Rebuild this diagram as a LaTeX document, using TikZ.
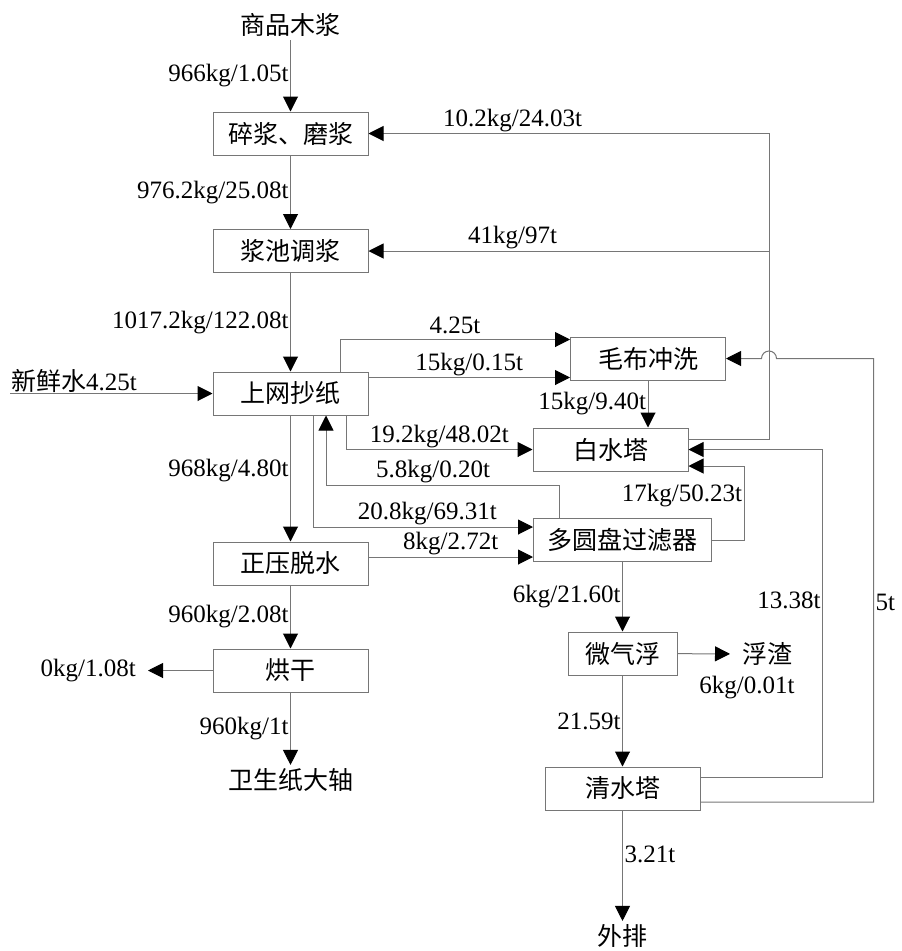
\documentclass[tikz,border=0pt]{standalone}
\usepackage{fontspec}
\setmainfont{Liberation Serif}
\newfontfamily\cjk{Noto Sans CJK SC}
\usetikzlibrary{arrows.meta}

\definecolor{linegray}{RGB}{118,118,118}
\newcommand\figsize{\fontsize{25}{30}\selectfont}

\tikzset{
  stage/.style={draw=linegray, line width=1pt, minimum width=155pt,
    minimum height=43pt, inner sep=0pt, font=\figsize\cjk},
  term/.style={font=\figsize\cjk},
  lbl/.style={inner sep=1.5pt, font=\figsize\rmfamily},
  flow/.style={draw=linegray, line width=1pt,
    -{Triangle[length=15pt,width=15pt,black]}},
}

\begin{document}
\begin{tikzpicture}[x=1pt, y=-1pt]
  \useasboundingbox (0,0) rectangle (902,951);

  % main line
  \node[term] (pulp) at (290.5,25) {商品木浆};
  \node[stage] (sui) at (290.5,133.5) {碎浆、磨浆};
  \node[stage] (tiao) at (290.5,251) {浆池调浆};
  \node[stage] (chao) at (290.5,393.5) {上网抄纸};
  \node[stage] (zheng) at (290.5,563.5) {正压脱水};
  \node[stage] (hong) at (290.5,670.5) {烘干};
  \node[term] (roll) at (290.5,780) {卫生纸大轴};
  \node[lbl, anchor=east, inner xsep=12pt] (dry) at (148,670.5) {0kg/1.08t};
  \node[lbl, anchor=south west, inner sep=1pt] (fresh) at (10,393.5) {{\cjk 新鲜水}4.25t};

  % water loop
  \node[stage] (mao) at (648,358.5) {毛布冲洗};
  \node[stage] (bai) at (610.5,449.5) {白水塔};
  \node[stage, minimum width=178pt] (duo) at (622.5,540) {多圆盘过滤器};
  \node[stage, minimum width=109pt] (wei) at (622.5,653.5) {微气浮};
  \node[stage] (qing) at (622.5,788.5) {清水塔};
  \node[term, anchor=west, inner xsep=12pt] (scum) at (730,654) {浮渣};
  \node[lbl] (scumv) at (747,688) {6kg/0.01t};
  \node[term] (drain) at (622.5,936) {外排};

  \coordinate (wout) at ([yshift=10.5]bai.east);
  \coordinate (ret) at ([xshift=80.5]wout);
  \coordinate (hop) at (ret |- mao.east);
  \coordinate (min) at ([yshift=3]mao.south west);
  \coordinate (zin) at ([yshift=-17]duo.west);

  \draw[flow] (pulp) -- node[lbl,left]{966kg/1.05t} (sui);
  \draw[flow] (sui) -- node[lbl,left]{976.2kg/25.08t} (tiao);
  \draw[flow] (tiao) -- node[lbl,left]{1017.2kg/122.08t} (chao);
  \draw[flow] (fresh.south west) -- (chao.west);
  \draw[flow] (chao) -- node[lbl,left,pos=0.44]{968kg/4.80t} (zheng);
  \draw[flow] (zheng) -- node[lbl,left]{960kg/2.08t} (hong);
  \draw[flow] (hong) -- node[lbl,left]{960kg/1t} (roll);
  \draw[flow] (hong) -- (dry);

  \draw[flow] ([xshift=49.5]chao.north) |- node[lbl,above,pos=0.75,yshift=4]{4.25t} ([yshift=-3]mao.north west);
  \draw[flow] (min -| chao.east) -- node[lbl,above]{15kg/0.15t} (min);
  \draw[flow] ([xshift=55.5]chao.south) |- node[lbl,above,pos=0.75]{19.2kg/48.02t} (bai.west);
  \draw[flow] ([xshift=-63.5]duo.north) -- ++(0,-33) -| node[lbl,above,pos=0.27]{5.8kg/0.20t} ([xshift=35.5]chao.south);
  \draw[flow] ([xshift=22.5]chao.south) |- node[lbl,above,pos=0.76]{20.8kg/69.31t} ([yshift=13]duo.west);
  \draw[flow] (zheng.east |- zin) -- node[lbl,above]{8kg/2.72t} (zin);

  \draw[flow] (mao.south) -- node[lbl,left]{15kg/9.40t} (mao.south |- bai.north);
  \draw[flow] (duo.east) -- ++(32,0) |- node[lbl,left,pos=0.3]{17kg/50.23t} ([yshift=-16.5]bai.east);
  \draw[flow] (duo) -- node[lbl,left]{6kg/21.60t} (wei);
  \draw[flow] (wei) -- (scum);
  \draw[flow] (wei) -- node[lbl,left]{21.59t} (qing);
  \draw[flow] (qing) -- node[lbl,right,pos=0.4]{3.21t} (drain);

  % returns
  \draw[flow] ([yshift=11.5]qing.east) -- ++(122,0) |- node[lbl,left,pos=0.27]{13.38t} (bai.east);
  \draw[flow] ([yshift=-13.5]qing.east) -- ++(173,0) |- node[lbl,right,pos=0.225]{5t} ([xshift=7.5]hop)
    arc[start angle=0, end angle=-180, radius=7.5] -- (mao.east);
  \draw[flow] (wout) -- (ret) |- node[lbl,above,pos=0.82]{10.2kg/24.03t} (sui.east);
  \draw[flow] (ret |- tiao.east) -- node[lbl,above,pos=0.64]{41kg/97t} (tiao.east);
\end{tikzpicture}
\end{document}
